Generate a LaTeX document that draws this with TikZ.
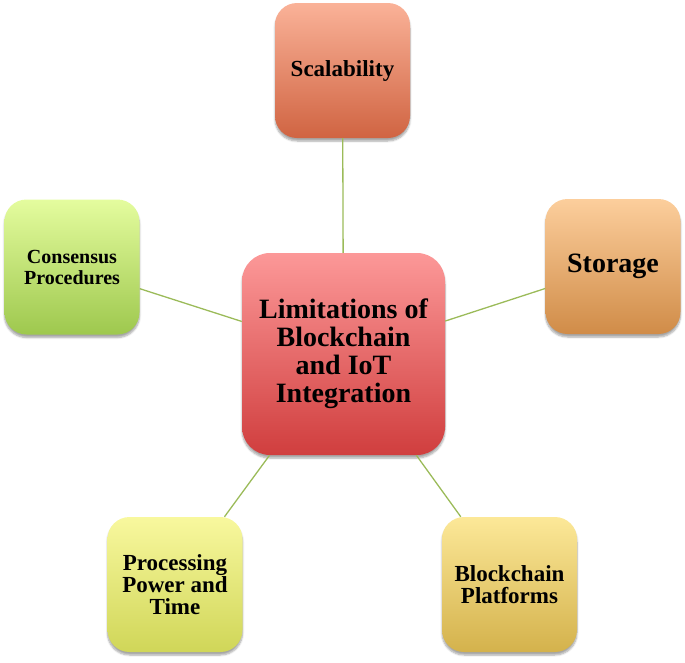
\documentclass[tikz,border=0pt]{standalone}
\usepackage{fontspec}
\setmainfont{Liberation Serif}
\usepackage{tikz}
\usetikzlibrary{positioning, shadows.blur}
\definecolor{LinkGreen}{HTML}{9BBB59}
\definecolor{HubTop}{RGB}{252,152,152}
\definecolor{HubBot}{RGB}{208,62,62}
\definecolor{ScalTop}{RGB}{250,178,152}
\definecolor{ScalBot}{RGB}{208,100,66}
\definecolor{ConsTop}{RGB}{228,252,158}
\definecolor{ConsBot}{RGB}{158,200,78}
\definecolor{StorTop}{RGB}{252,206,156}
\definecolor{StorBot}{RGB}{208,140,72}
\definecolor{ProcTop}{RGB}{248,248,158}
\definecolor{ProcBot}{RGB}{208,214,88}
\definecolor{PlatTop}{RGB}{252,232,152}
\definecolor{PlatBot}{RGB}{212,178,76}

\tikzset{
  limbox/.style={rounded corners=22pt, minimum width=135pt, minimum height=135pt,
    align=center, font=\bfseries\fontsize{23}{22}\selectfont, inner sep=2pt,
    blur shadow={shadow xshift=0pt, shadow yshift=-3pt, shadow opacity=35, shadow blur steps=6}},
  hubbox/.style={limbox, rounded corners=28pt, minimum width=203pt, minimum height=202pt,
    font=\bfseries\fontsize{28}{28}\selectfont},
  link/.style={draw=LinkGreen, line width=1.3pt}
}

\begin{document}
\begin{tikzpicture}[x=1pt, y=-1pt]
  \useasboundingbox (0,0) rectangle (685,662);
  % hub
  \node[hubbox, top color=HubTop, bottom color=HubBot] (hub) at (343.5,354)
    {Limitations of\\Blockchain\\and IoT\\Integration};
  % limitations
  \node[limbox, top color=ScalTop, bottom color=ScalBot] (scal) at (342.5,70.5) {Scalability};
  \node[limbox, top color=ConsTop, bottom color=ConsBot, font=\bfseries\fontsize{20}{21}\selectfont]
    (cons) at (72,267) {Consensus\\Procedures};
  \node[limbox, top color=StorTop, bottom color=StorBot, font=\bfseries\fontsize{28}{28}\selectfont]
    (stor) at (613,266.5) {Storage};
  \node[limbox, top color=ProcTop, bottom color=ProcBot] (proc) at (175,584.5)
    {Processing\\Power and\\Time};
  \node[limbox, top color=PlatTop, bottom color=PlatBot] (plat) at (509.5,584.5)
    {Blockchain\\Platforms};
  % links
  \foreach \n in {scal, cons, stor, proc, plat}
    \draw[link] (hub) -- (\n);
\end{tikzpicture}
\end{document}
